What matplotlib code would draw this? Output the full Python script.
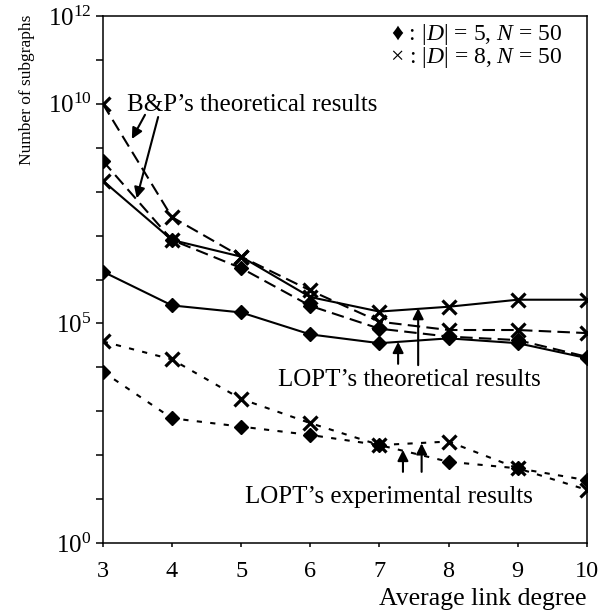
import numpy as np
import matplotlib
matplotlib.use("Agg")
from matplotlib import pyplot as plt
from matplotlib.ticker import NullLocator

plt.rcParams['font.family'] = ['Liberation Serif', 'DejaVu Sans']
plt.rcParams['mathtext.fontset'] = 'custom'
plt.rcParams['mathtext.rm'] = 'Liberation Serif'
plt.rcParams['mathtext.it'] = 'Liberation Serif:italic'

# average link degree
degree = [3, 4, 5, 6, 7, 8, 9, 10]

# log10 of the number of subgraphs
bp_d5 = [8.70, 6.90, 6.26, 5.40, 4.88, 4.70, 4.62, 4.24]
bp_d8 = [10.0, 7.42, 6.52, 5.75, 5.04, 4.85, 4.85, 4.78]
lopt_theo_d5 = [6.18, 5.41, 5.25, 4.75, 4.55, 4.66, 4.55, 4.21]
lopt_theo_d8 = [8.25, 6.90, 6.52, 5.60, 5.27, 5.38, 5.54, 5.54]
lopt_exp_d5 = [3.90, 2.84, 2.65, 2.46, 2.23, 1.85, 1.70, 1.43]
lopt_exp_d8 = [4.59, 4.18, 3.28, 2.73, 2.23, 2.31, 1.70, 1.21]

ytick_labels = {0: r'$10^{0}$', 5: r'$10^{5}$', 10: r'$10^{10}$', 12: r'$10^{12}$'}

fig = plt.figure(figsize=(6.12, 6.16), dpi=100)
ax = fig.add_axes([0.168, 0.1185, 0.791, 0.8555])

long_dash = (0, (6, 3))
short_dash = (0, (2.5, 4))
dmark = dict(marker='D', ms=7, mfc='k', mec='k')
xmark = dict(marker='x', ms=10.5, mew=2.3, mec='k')

series = [
    (bp_d8, long_dash, xmark),
    (bp_d5, long_dash, dmark),
    (lopt_theo_d8, '-', xmark),
    (lopt_theo_d5, '-', dmark),
    (lopt_exp_d8, short_dash, xmark),
    (lopt_exp_d5, short_dash, dmark),
]
for ys, ls, mk in series:
    ax.plot(degree, 10.0 ** np.array(ys), color='k', lw=1.5, ls=ls, **mk)

ax.set_yscale('log')
ax.set_xlim(3, 10)
ax.set_ylim(1, 1e12)
ax.set_xticks(degree)
ax.set_xticklabels([str(d) for d in degree], fontsize=17.5)
ax.set_yticks(10.0 ** np.arange(13))
ax.set_yticklabels([ytick_labels.get(e, '') for e in range(13)], fontsize=18)
ax.yaxis.set_minor_locator(NullLocator())
ax.tick_params(axis='y', direction='out', length=5, width=1.1, pad=3)
ax.tick_params(axis='x', direction='out', length=3, width=1.1, pad=10)
for s in ax.spines.values():
    s.set_linewidth(1.1)

ax.set_xlabel('Average link degree', fontsize=18.5, ha='right', x=1.0, labelpad=4)
fig.text(27 / 612, 1 - 90 / 616, 'Number of subgraphs', rotation=90,
         ha='center', va='center', fontsize=12.5)

arrow = dict(arrowstyle='-|>', color='k', lw=1.5, mutation_scale=16,
             shrinkA=0, shrinkB=0)

ax.text(3.35, 10 ** 9.98, 'B&P’s theoretical results', fontsize=18,
        ha='left', va='center')
ax.annotate('', xy=(3.42, 10 ** 9.2), xytext=(3.61, 10 ** 9.75), arrowprops=arrow)
ax.annotate('', xy=(3.49, 10 ** 7.85), xytext=(3.80, 10 ** 9.70), arrowprops=arrow)

ax.text(7.44, 10 ** 3.71, 'LOPT’s theoretical results', fontsize=18,
        ha='center', va='center')
ax.annotate('', xy=(7.27, 10 ** 4.58), xytext=(7.27, 10 ** 4.08), arrowprops=arrow)
ax.annotate('', xy=(7.56, 10 ** 5.35), xytext=(7.56, 10 ** 4.05), arrowprops=arrow)

ax.text(7.14, 10 ** 1.05, 'LOPT’s experimental results', fontsize=18,
        ha='center', va='center')
ax.annotate('', xy=(7.34, 10 ** 2.12), xytext=(7.34, 10 ** 1.62), arrowprops=arrow)
ax.annotate('', xy=(7.61, 10 ** 2.27), xytext=(7.61, 10 ** 1.62), arrowprops=arrow)

ax.text(9.65, 10 ** 11.57, '♦ : |$D$| = 5, $N$ = 50', fontsize=17,
        ha='right', va='center')
ax.text(9.65, 10 ** 11.05, '× : |$D$| = 8, $N$ = 50', fontsize=17,
        ha='right', va='center')

fig.savefig('out.png', dpi=100)
